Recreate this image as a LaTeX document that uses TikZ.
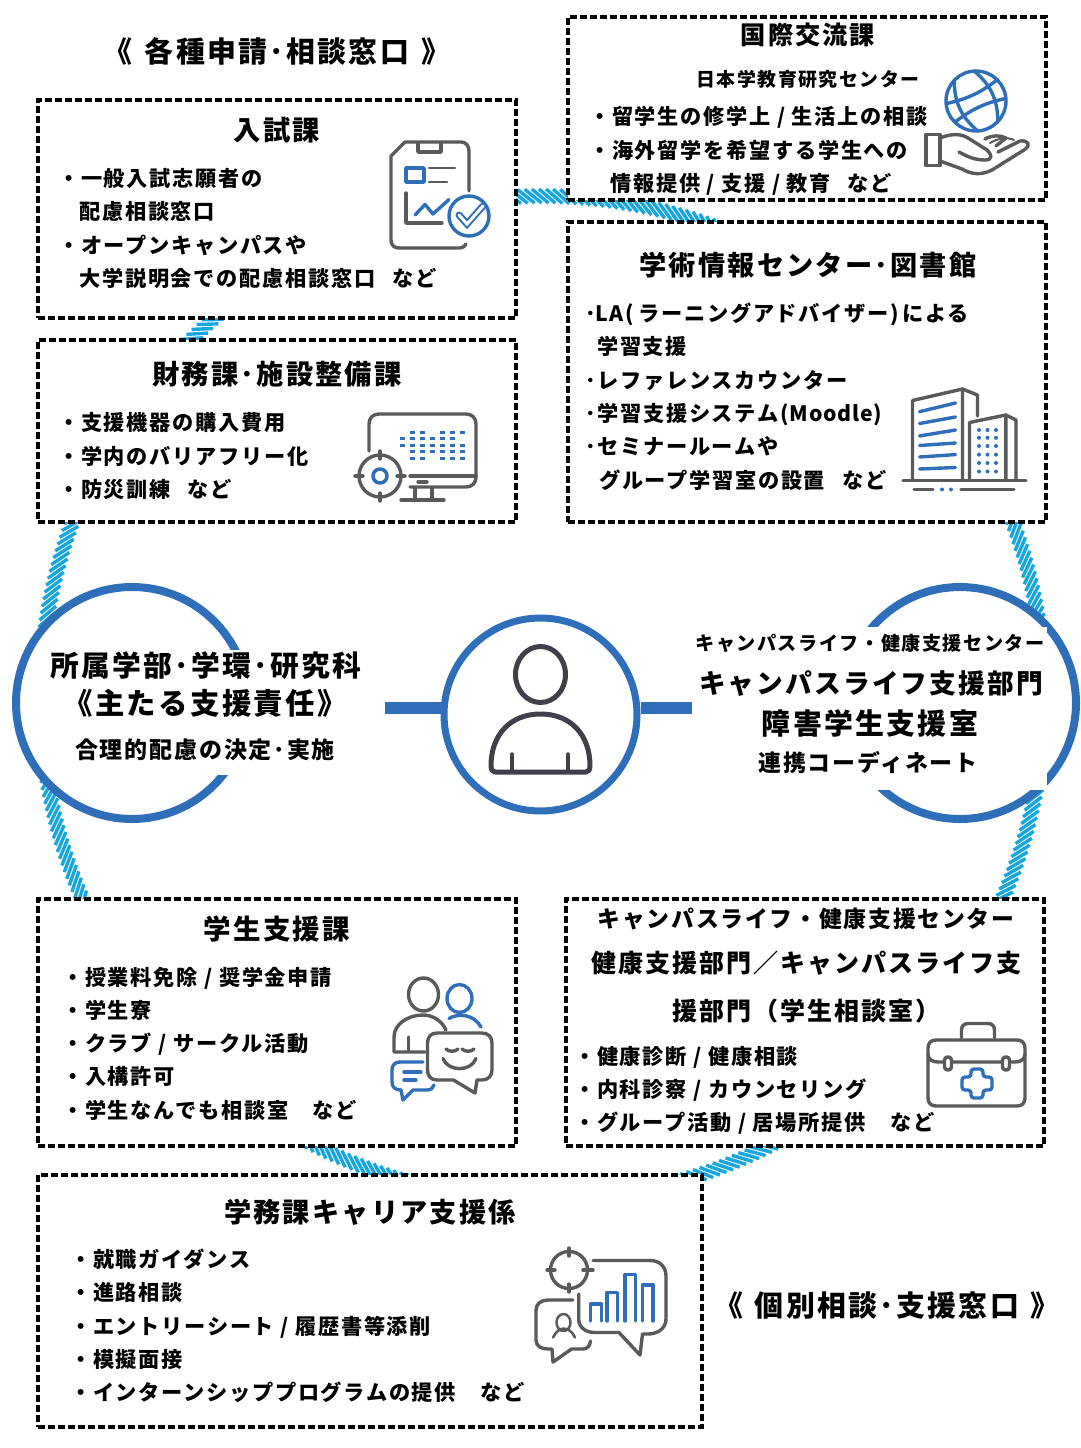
\documentclass[tikz,border=0pt]{standalone}
\usepackage{fontspec}
\setmainfont{Noto Sans CJK JP}[LetterSpace=8]
\usepackage{xcolor}
\usetikzlibrary{positioning}
\definecolor{hubblue}{HTML}{2F6FB9}
\definecolor{hatchblue}{HTML}{18A6DF}
\definecolor{icongray}{HTML}{5A5A5A}
\definecolor{persongray}{HTML}{3F4049}
\newcommand{\sized}[1]{\fontsize{#1}{33.3}\selectfont\bfseries}
\newcommand{\tagnado}{\hspace{17pt}など}
\newcommand{\indentln}{\phantom{・}}
\newcommand{\tightlatin}[1]{{\addfontfeature{LetterSpace=4}#1}}

\begin{document}
\begin{tikzpicture}[
    x=1pt, y=-1pt,
    desk/.style={draw, fill=white, line width=3.2pt, dash pattern=on 7pt off 3pt, inner sep=0pt},
    hub/.style={circle, draw=hubblue, fill=white, line width=8pt, inner sep=0pt},
    bar/.style={hubblue, line width=12pt},
    stripe/.style={hatchblue, line width=3.4pt},
    head/.style={font=\sized{27.3}, inner sep=0pt},
    sign/.style={font=\sized{28.9}, inner sep=0pt},
    body/.style={anchor=west, align=left, inner sep=0pt, font=\sized{21.2}},
    patch/.style={fill=white, inner sep=0pt, align=center, font=\sized{27}},
    icg/.style={icongray, line width=3.4pt, line cap=round, line join=round},
    icb/.style={hubblue, line width=3.4pt, line cap=round, line join=round},
    who/.style={persongray, line width=5pt, line cap=round, line join=round}
]
    \useasboundingbox (0,0) rectangle (1081,1448);

    % Hatched ring behind everything
    \coordinate (ringc) at (542.5,698);
    \foreach \a in {0,0.8,...,359.5}
        \draw[stripe] ([shift={(\a:509)}]ringc) -- ([shift={(\a+1.9:495)}]ringc);

    % Left and right circles
    \node[hub, minimum size=232pt] (faculty) at (132,703) {};
    \node[hub, minimum size=232pt] (campus) at (960,703) {};

    % Text in the circles, white behind it
    \node[patch, minimum width=314pt, minimum height=125pt] (facultytxt) at (205,712.5) {};
    \node[patch, minimum width=355pt, minimum height=163pt] (campustxt) at (869.5,708.5) {};
    \node[inner sep=0pt, font=\sized{28.8}] (faculty1) at (206,666) {所属学部･学環･研究科};
    \node[inner sep=0pt, font=\sized{29.4}] (faculty2) at (205,703) {《主たる支援責任》};
    \node[inner sep=0pt, font=\sized{23}] (faculty3) at (205,750) {合理的配慮の決定･実施};
    \node[inner sep=0pt, font=\sized{19.1}] (campus1) at (870,643) {キャンパスライフ・健康支援センター};
    \node[inner sep=0pt, font=\sized{26.7}] (campus2) at (871,684) {キャンパスライフ支援部門};
    \node[inner sep=0pt, font=\sized{28.9}] (campus3) at (870,723) {障害学生支援室};
    \node[inner sep=0pt, font=\sized{22.9}] (campus4) at (868,763) {連携コーディネート};

    % Student in the middle, joined by the two bars
    \node[hub, line width=7pt, minimum size=193pt, fill=none] (student) at (540.5,714.5) {};
    \coordinate (barl) at (385,708);
    \coordinate (barr) at (692,708);
    \draw[bar] (barl) -- (barl -| student.west);
    \draw[bar] (barr) -- (barr -| student.east);
    \draw[who] (540.5,674.5) ellipse [x radius=25, y radius=28];
    \draw[who] (491,766) .. controls (491,735) and (510,714) .. (540.5,714)
        .. controls (571,714) and (590,735) .. (590,766)
        .. controls (590,770) and (588,772) .. (586,772) -- (495,772)
        .. controls (493,772) and (491,770) .. (491,766) -- cycle;
    \draw[who, line width=3.5pt] (512,754) -- (512,771) (568,754) -- (568,771);

    % Window titles
    \node[sign] (signtop) at (277,51) {《\hspace{4pt} 各種申請･相談窓口 \hspace{4pt}》};
    \node[sign] (signbot) at (887,1306) {《\hspace{3pt} 個別相談･支援窓口 \hspace{3pt}》};

    % Boxes
    \node[desk, minimum width=478pt, minimum height=218pt] (admission) at (277,209) {};
    \node[desk, minimum width=478pt, minimum height=182pt] (finance) at (277,431) {};
    \node[desk, minimum width=478pt, minimum height=183pt] (intl) at (807,108.5) {};
    \node[desk, minimum width=478pt, minimum height=300pt] (library) at (807,372) {};
    \node[desk, minimum width=478pt, minimum height=247pt] (affairs) at (277,1022.5) {};
    \node[desk, minimum width=478pt, minimum height=247pt] (health) at (805,1022.5) {};
    \node[desk, minimum width=664pt, minimum height=252pt] (career) at (370,1301) {};

    % Admission office
    \node[head] (admissionhd) at (277,130) {入試課};
    \node[body] (admissiontxt) at (58,228.5) {・一般入試志願者の\\\indentln 配慮相談窓口\\・オープンキャンパスや\\\indentln 大学説明会での配慮相談窓口\tagnado};
    \draw[icg] (469,191) -- (469,151) .. controls (469,146) and (466,142) .. (461,142) -- (405,142)
        -- (391,156) -- (391,240) .. controls (391,245) and (394,248) .. (399,248) -- (460,248)
        .. controls (463,248) and (465,246) .. (466,244);
    \draw[icg] (418,143) -- (418,152) -- (441,152) -- (441,143);
    \draw[icb] (406,168) rectangle (424,182);
    \draw[icg, line width=2.5pt] (429,168) -- (455,168) (429,182) -- (447,182);
    \draw[icg] (406,193) -- (406,223) -- (442,223);
    \draw[icb] (415,215) -- (425,204.5) -- (433,214) -- (449,199.5);
    \draw[icb] (469,216) circle [radius=20];
    \draw[hubblue, line cap=round, line width=2pt, double=white, double distance=3pt] (459,215) -- (467,224) -- (483,206);

    % Finance office
    \node[head] (financehd) at (277,374) {財務課･施設整備課};
    \node[body] (financetxt) at (58,456) {・支援機器の購入費用\\・学内のバリアフリー化\\・防災訓練\tagnado};
    \draw[icg] (369,451) -- (369,424) .. controls (369,418) and (373,414) .. (379,414) -- (466,414)
        .. controls (472,414) and (476,418) .. (476,424) -- (476,477)
        .. controls (476,483) and (472,487) .. (466,487) -- (410,487);
    \draw[icg] (410,476) -- (476,476);
    \draw[icg] (418,482) -- (427,482);
    \draw[icg] (415,488) -- (415,500) (432,488) -- (432,500) (401,500) -- (444,500);
    \draw[icg] (380,476) circle [radius=21];
    \draw[icg] (380,451) -- (380,459) (380,493) -- (380,501) (355,476) -- (363,476) (397,476) -- (405,476);
    \draw[icb, line width=3.5pt] (380,476) circle [radius=7];
    \foreach \r/\cols in {432/{412,422,442,452,462}, 438.5/{402,412,422,432,442,452}, 445/{402,412,422,432,442,452,462},
                          451.5/{412,422,432,442,452,462}, 458/{412,422,442,452,462}}
        \foreach \c in \cols
            \draw[hubblue, line width=3pt] (\c-2.5,\r) -- (\c+2.5,\r);

    % International office
    \node[inner sep=0pt, font=\sized{25.2}] (intlhd) at (808,35) {国際交流課};
    \node[inner sep=0pt, font=\sized{18.9}] (intlsub) at (808,79) {日本学教育研究センター};
    \node[body] (intltxt) at (589,151) {・留学生の修学上 / 生活上の相談\\・海外留学を希望する学生への\\\indentln 情報提供 / 支援 / 教育\tagnado};
    \draw[icb] (976,101) circle [radius=30];
    \begin{scope}[rotate around={25:(976,101)}]
        \draw[icb] (965,73) to[bend right=25] (965,129);
        \draw[icb] (987,73) to[bend left=25] (987,129);
        \draw[icb] (949,91) to[bend right=12] (1003,91);
        \draw[icb] (949,111) to[bend left=12] (1003,111);
    \end{scope}
    \draw[icg] (926,134.5) rectangle (940,165.5);
    \draw[icg] (940,138) .. controls (950,134) and (960,133) .. (968,138) -- (987,150)
        .. controls (992,155) and (993,160) .. (985,160) .. controls (975,160) and (968,157) .. (959,152);
    \draw[icg] (940,161) -- (962,169) .. controls (972,175) and (982,175) .. (992,170)
        -- (1024,150) .. controls (1032,145) and (1028,140) .. (1020,141) -- (998,152);
    \draw[icg] (985,139) .. controls (992,135) and (1000,135) .. (1006,138) -- (996,146);
    \draw[icg, line width=2pt] (990,143) .. controls (998,138) and (1008,137) .. (1014,140);

    % Library
    \node[head, font=\sized{27.2}] (libraryhd) at (808,265) {学術情報センター･図書館};
    \node[body] (librarytxt) at (585,396.5) {･\tightlatin{LA}\hspace{2pt}\tightlatin{(}\hspace{5pt}ラーニングアドバイザー\hspace{2pt}\tightlatin{)}\hspace{3pt}による\\\hspace{12pt}学習支援\\･レファレンスカウンター\\･学習支援システム\hspace{2pt}\tightlatin{(Moodle)}\\･セミナールームや\\\hspace{14pt}グループ学習室の設置\tagnado};
    \draw[icg] (912.5,480) -- (912.5,400.5) -- (962.5,389) -- (962.5,480);
    \draw[icg] (962.5,389) -- (977.5,395) -- (977.5,416);
    \foreach \ya/\yb in {411.7/403, 423.5/417, 436/430, 445.5/443, 457/454.6, 469/467.5}
        \draw[icb] (919.5,\ya) -- (955.5,\yb);
    \draw[icg] (969.5,480) -- (969.5,422.5) -- (1005.8,415) -- (1005.8,480);
    \draw[icg] (1005.8,415) -- (1016,420) -- (1016,480);
    \foreach \c in {979,987.5,996}
        \foreach \r in {430,437.8,446,454.6,463,471.5}
            \fill[hubblue] (\c,\r) circle [radius=2];
    \draw[icg] (903,480.5) -- (1026,480.5);
    \draw[icg] (914,489.5) -- (933,489.5) (961,489.5) -- (1014,489.5);
    \fill[hubblue] (942,489.5) circle [radius=2] (951,489.5) circle [radius=2];

    % Student affairs
    \node[head, font=\sized{27.5}] (affairshd) at (277,929) {学生支援課};
    \node[body] (affairstxt) at (62,1043.5) {・授業料免除 / 奨学金申請\\・学生寮\\・クラブ / サークル活動\\・入構許可\\・学生なんでも相談室　など};
    \draw[icg] (423.5,994.5) ellipse [x radius=15, y radius=16.5];
    \draw[icb] (459.5,998.5) ellipse [x radius=12.5, y radius=14];
    \draw[icg] (425,1052) -- (394,1052) -- (394,1037) .. controls (394,1024) and (408,1015) .. (423,1015)
        .. controls (433,1015) and (442,1021) .. (446,1030);
    \draw[icg] (408.5,1037) -- (408.5,1051);
    \draw[icb] (449,1018.5) .. controls (458,1013) and (474,1014) .. (481,1027);
    \draw[icg] (437,1033) -- (482,1033) .. controls (488,1033) and (492,1037) .. (492,1043)
        -- (492,1070) .. controls (492,1076) and (488,1080) .. (482,1080) -- (477,1080)
        -- (475,1093) -- (453.5,1080) -- (437,1080)
        .. controls (431,1080) and (427.5,1076) .. (427.5,1070) -- (427.5,1043)
        .. controls (427.5,1037) and (431,1033) .. (437,1033) -- cycle;
    \draw[icg] (446,1049) .. controls (449,1052) and (455,1052) .. (458,1049);
    \draw[icg] (462,1049) .. controls (465,1052) and (471,1052) .. (474,1049);
    \draw[icg] (443,1058.5) .. controls (448,1072) and (471,1072) .. (476,1058.5);
    \draw[icb] (423,1062) -- (400,1062) .. controls (395,1062) and (392,1065) .. (392,1070)
        -- (392,1082) .. controls (392,1087) and (395,1090) .. (401,1090) -- (403,1100)
        -- (413,1090) -- (427,1090) .. controls (431,1090) and (433,1088) .. (434,1085);
    \draw[icb] (404,1072) -- (421,1072) (404,1080) -- (416,1080);

    % Health support
    \node[inner sep=0pt, font=\sized{22.8}] (healthhd1) at (806,919) {キャンパスライフ・健康支援センター};
    \node[inner sep=0pt, font=\sized{25}] (healthhd2) at (806,963) {健康支援部門／キャンパスライフ支};
    \node[inner sep=0pt, font=\sized{25}] (healthhd3) at (806,1011) {援部門（学生相談室）};
    \node[body] (healthtxt) at (574,1090.5) {・健康診断 / 健康相談\\・内科診察 / カウンセリング\\・グループ活動 / 居場所提供　など};
    \draw[icg] (961.5,1038) -- (961.5,1030) .. controls (961.5,1026) and (964,1023.5) .. (968,1023.5)
        -- (988,1023.5) .. controls (992,1023.5) and (994.5,1026) .. (994.5,1030) -- (994.5,1038);
    \draw[icg] (936,1040) -- (1017,1040) .. controls (1022,1040) and (1025,1043) .. (1025,1048)
        -- (1025,1098) .. controls (1025,1103) and (1022,1106) .. (1017,1106) -- (936,1106)
        .. controls (931,1106) and (928,1103) .. (928,1098) -- (928,1048)
        .. controls (928,1043) and (931,1040) .. (936,1040) -- cycle;
    \draw[icg] (928,1054) .. controls (928,1059) and (932,1062) .. (938,1062) -- (1015,1062)
        .. controls (1021,1062) and (1025,1059) .. (1025,1054);
    \draw[icg, fill=white, rounded corners=3pt] (944.5,1057) rectangle (951.5,1070);
    \draw[icg, fill=white, rounded corners=3pt] (1002.5,1057) rectangle (1009.5,1070);
    \draw[icb, rounded corners=3pt] (971,1069) -- (983,1069) -- (983,1077) -- (992,1077) -- (992,1090)
        -- (983,1090) -- (983,1098) -- (971,1098) -- (971,1090) -- (962,1090) -- (962,1077)
        -- (971,1077) -- cycle;

    % Career support
    \node[head, font=\sized{27.2}] (careerhd) at (370,1212) {学務課キャリア支援係};
    \node[body] (careertxt) at (70,1326) {・就職ガイダンス\\・進路相談\\・エントリーシート / 履歴書等添削\\・模擬面接\\・インターンシッププログラムの提供　など};
    \draw[icg] (569,1270) circle [radius=18.5];
    \draw[icg] (569,1248) -- (569,1256) (569,1284) -- (569,1292) (547,1270) -- (555,1270) (583,1270) -- (593,1270);
    \draw[icg] (593,1260.5) -- (650,1260.5) .. controls (660,1260.5) and (666,1267) .. (666,1276)
        -- (666,1319) .. controls (666,1328) and (658,1334) .. (648,1334) -- (642.5,1334)
        -- (640,1355) -- (619,1332.5) -- (595,1332.5)
        .. controls (585,1332.5) and (578.7,1327) .. (578.7,1319) -- (578.7,1294);
    \foreach \la/\ra/\tp in {590.5/601.5/1304, 607/617.5/1292.5, 625/635.5/1274.5, 642.5/653/1285}
        \draw[icb] (\la,1321) -- (\la,\tp) -- (\ra,\tp) -- (\ra,1321);
    \draw[icg] (573,1300) -- (548,1300) .. controls (541,1300) and (536,1304) .. (536,1310)
        -- (536,1340) .. controls (536,1346) and (541,1349) .. (548,1349) -- (552,1349)
        -- (553,1362) -- (571.5,1349) -- (583,1349) .. controls (587,1349) and (590,1346) .. (590.5,1341);
    \draw[icg, line width=2.5pt] (563.5,1322.5) ellipse [x radius=7, y radius=8.5];
    \draw[icg, line width=2.5pt] (553,1337.5) .. controls (556,1331) and (560,1329) .. (563.5,1328.5)
        .. controls (568,1329) and (572,1331) .. (575,1337.5);
\end{tikzpicture}
\end{document}
